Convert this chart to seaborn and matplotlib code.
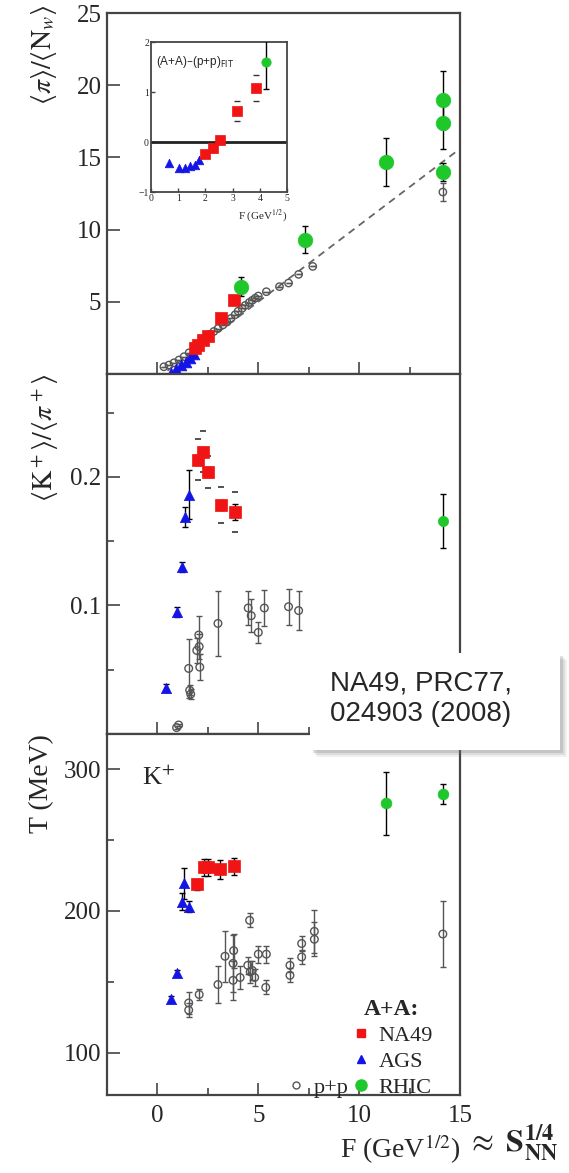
import matplotlib
matplotlib.use("Agg")
import matplotlib.pyplot as plt
import seaborn as sns
import numpy as np
from matplotlib.patches import Rectangle
from matplotlib.lines import Line2D

# ---------------- data ----------------
# top panel: <pi>/<Nw>
pi_na49_x = [1.85, 2.0, 2.25, 2.5, 3.15, 3.8]
pi_na49_y = [1.8, 2.0, 2.36, 2.64, 3.9, 5.14]
pi_ags_x = [0.65, 0.9, 1.15, 1.4, 1.6, 1.8]
pi_ags_y = [0.1, 0.35, 0.6, 0.85, 1.1, 1.4]
pi_rhic_x = [4.15, 7.3, 11.35, 14.15, 14.15, 14.15]
pi_rhic_y = [6.05, 9.3, 14.7, 19.0, 17.4, 14.0]
pi_rhic_err = [0.65, 0.95, 1.65, 2.0, 1.8, 0.6]
pi_pp_x = [0.32, 0.57, 0.82, 1.07, 1.32, 1.57, 2.6, 2.8, 3.0, 3.25, 3.45, 3.65, 3.85,
           4.0, 4.2, 4.35, 4.55, 4.7, 4.85, 5.0, 5.4, 6.05, 6.5, 7.0, 7.7, 14.15]
pi_pp_y = [0.5, 0.62, 0.78, 0.97, 1.2, 1.47, 2.75, 2.95, 3.15, 3.4, 3.6, 3.85, 4.1,
           4.35, 4.55, 4.75, 4.95, 5.1, 5.25, 5.4, 5.7, 6.05, 6.3, 6.9, 7.45, 12.6]
pi_pp_err = [0.0] * 25 + [0.6]
pp_fit_slope = 1.06
pp_fit_intercept = -0.3
pp_fit_range = [0.0, 15.0]

# inset: (A+A)-(p+p)FIT
ins_ags_x = [0.67, 1.04, 1.25, 1.43, 1.62, 1.78]
ins_ags_y = [-0.41, -0.51, -0.52, -0.48, -0.45, -0.35]
ins_na49_x = [1.99, 2.29, 2.54, 3.15, 3.86]
ins_na49_y = [-0.24, -0.12, 0.05, 0.62, 1.08]
ins_na49_sys = [0.06, 0.07, 0.08, 0.2, 0.26]
ins_rhic_x = [4.23]
ins_rhic_y = [1.61]
ins_rhic_err = [0.55]

# middle panel: <K+>/<pi+>
kp_na49_x = [2.0, 2.25, 2.5, 3.15, 3.85]
kp_na49_y = [0.2133, 0.2195, 0.204, 0.178, 0.1727]
kp_na49_err = [0.004, 0.004, 0.004, 0.004, 0.006]
kp_na49_sys = [0.016, 0.016, 0.0125, 0.014, 0.0155]
kp_ags_x = [0.43, 0.98, 1.2, 1.35, 1.55]
kp_ags_y = [0.036, 0.0948, 0.1297, 0.1687, 0.186]
kp_ags_err = [0.003, 0.004, 0.004, 0.008, 0.019]
kp_rhic_x = [14.15]
kp_rhic_y = [0.166]
kp_rhic_err = [0.021]
kp_pp_x = [0.95, 1.05, 1.55, 1.6, 1.65, 1.95, 2.05, 2.07, 2.1, 3.0, 4.5, 4.65, 5.0, 5.3, 6.5, 7.0]
kp_pp_y = [0.005, 0.007, 0.051, 0.034, 0.031, 0.065, 0.077, 0.068, 0.052, 0.086, 0.098,
           0.092, 0.079, 0.098, 0.099, 0.096]
kp_pp_err = [0.001, 0.001, 0.023, 0.004, 0.004, 0.01, 0.015, 0.01, 0.01, 0.025, 0.013,
             0.013, 0.008, 0.014, 0.014, 0.015]

# bottom panel: T (MeV)
t_na49_x = [1.95, 2.32, 2.52, 3.1, 3.82]
t_na49_y = [218.9, 231.0, 231.0, 229.3, 231.6]
t_na49_err = [4, 6, 6, 7, 6]
t_ags_x = [0.68, 0.98, 1.2, 1.32, 1.57]
t_ags_y = [138, 156, 206.4, 219.4, 203]
t_ags_err = [2, 2, 6, 11, 4]
t_rhic_x = [11.35, 14.15]
t_rhic_y = [276, 282.7]
t_rhic_err = [22, 7]
t_pp_x = [1.55, 1.55, 2.07, 3.0, 3.35, 3.75, 3.78, 3.75, 4.1, 4.48, 4.57, 4.6, 4.7, 4.82,
          5.0, 5.37, 5.4, 6.57, 6.57, 7.15, 7.15, 7.78, 7.78, 14.15]
t_pp_y = [135, 130, 141, 148, 168, 163, 172, 151, 153, 161.6, 193.4, 157, 158, 153,
          169.5, 146, 169.5, 161.6, 154.5, 177, 167.5, 185.6, 180, 183.7]
t_pp_err = [8, 5, 4, 13, 18, 20, 12, 14, 8, 6, 5, 8, 7, 6, 6, 5, 6, 5, 5, 5, 5, 15, 12, 23]

legend_labels = ["NA49", "AGS", "RHIC", "p+p"]

# ---------------- style ----------------
sns.set_theme(style="ticks")
plt.rcParams["font.family"] = ["Liberation Serif", "DejaVu Serif"]
plt.rcParams["mathtext.fontset"] = "stix"

RED = "#f01414"
BLUE = "#1414e6"
GREEN = "#1ec82a"
GRAY = "#555555"
SPINE = "#444444"

W, H = 569, 1173
fig = plt.figure(figsize=(W / 100, H / 100), dpi=100)


def fx(px):
    return px / W


def fy(py):
    return 1 - py / H


left, right = 107, 460
ax1 = fig.add_axes([fx(left), fy(374), fx(right - left), (374 - 13) / H])
ax2 = fig.add_axes([fx(left), fy(734), fx(right - left), (734 - 374) / H])
ax3 = fig.add_axes([fx(left), fy(1095), fx(right - left), (1095 - 734) / H])


def scat(ax, x, y, marker, color, s, open_=False, lw=0.5):
    sns.scatterplot(x=x, y=y, marker=marker, color=color, s=s, ax=ax,
                    edgecolor=color, linewidth=lw, zorder=4, legend=False)
    coll = ax.collections[-1]
    if open_:
        coll.set_facecolor("none")
        coll.set_edgecolor(GRAY)
        coll.set_linewidth(1.0)
    return coll


def ebar(ax, x, y, e, color="black", cap=2.5, lw=1.0):
    ax.errorbar(x, y, yerr=e, fmt="none", ecolor=color, elinewidth=lw,
                capsize=cap, capthick=lw, zorder=3)


def style_axis(ax):
    for sp in ax.spines.values():
        sp.set_color(SPINE)
        sp.set_linewidth(1.6)
    ax.set_xlim(-2.5, 15)
    ax.set_xticks([0, 5, 10, 15])
    ax.set_xticks([2.5, 7.5, 12.5], minor=True)
    ax.tick_params(which="major", direction="in", length=9, width=1.2, color=SPINE,
                   labelsize=18, pad=4)
    ax.tick_params(which="minor", direction="in", length=5, width=1.2, color=SPINE)
    ax.tick_params(axis="x", pad=7)
    ax.grid(False)


# ---- top panel ----
style_axis(ax1)
fitx = np.array(pp_fit_range)
sns.lineplot(x=fitx, y=pp_fit_slope * fitx + pp_fit_intercept, ax=ax1, color="#666666",
             linestyle=(0, (4, 3)), linewidth=1.3, zorder=2)
ebar(ax1, pi_pp_x, pi_pp_y, pi_pp_err, color=GRAY, lw=1.0)
scat(ax1, pi_pp_x, pi_pp_y, "o", GRAY, 28, open_=True)
scat(ax1, pi_ags_x, pi_ags_y, "^", BLUE, 60)
scat(ax1, pi_na49_x, pi_na49_y, "s", RED, 70)
ebar(ax1, pi_rhic_x, pi_rhic_y, pi_rhic_err)
scat(ax1, pi_rhic_x, pi_rhic_y, "o", GREEN, 110)
ax1.set_ylim(0, 25)
ax1.set_yticks([5, 10, 15, 20, 25])
ax1.set_xticklabels([])
ax1.set_ylabel(r"$\langle\pi\rangle/\langle \mathrm{N}_w\rangle$", fontsize=20, loc="top")
ax1.yaxis.set_label_coords(-0.135, 1.025)

# inset
axi = fig.add_axes([fx(151), fy(192), fx(287 - 151), (192 - 42) / H])
for sp in axi.spines.values():
    sp.set_color(SPINE)
    sp.set_linewidth(1.3)
axi.set_xlim(0, 5)
axi.set_ylim(-1, 2)
axi.set_xticks([0, 1, 2, 3, 4, 5])
axi.set_yticks([-1, 0, 1, 2])
axi.tick_params(direction="in", length=3, width=1, color=SPINE, labelsize=7, pad=1.5)
axi.grid(False)
axi.axhline(0, color="#222222", linewidth=2.0, zorder=2)
scat(axi, ins_ags_x, ins_ags_y, "^", BLUE, 38)
for s in (1, -1):
    axi.scatter(ins_na49_x, np.array(ins_na49_y) + s * np.array(ins_na49_sys), marker="_",
                color="#333333", s=20, linewidths=1.0, zorder=3)
scat(axi, ins_na49_x, ins_na49_y, "s", RED, 55)
ebar(axi, ins_rhic_x, ins_rhic_y, ins_rhic_err, cap=2)
scat(axi, ins_rhic_x, ins_rhic_y, "o", GREEN, 45)
axi.text(0.04, 0.87, r"(A+A)–(p+p)$_{\mathrm{FIT}}$", transform=axi.transAxes, fontsize=8.5,
         family=["Liberation Sans", "DejaVu Sans"], math_fontfamily="dejavusans",
         va="center", ha="left")
axi.set_xlabel(r"F (GeV$^{1/2}$)", fontsize=8, loc="right", labelpad=3)

# ---- middle panel ----
style_axis(ax2)
ebar(ax2, kp_pp_x, kp_pp_y, kp_pp_err, color=GRAY, lw=1.0)
scat(ax2, kp_pp_x, kp_pp_y, "o", GRAY, 30, open_=True)
ebar(ax2, kp_ags_x, kp_ags_y, kp_ags_err)
scat(ax2, kp_ags_x, kp_ags_y, "^", BLUE, 55)
for s in (1, -1):
    ax2.scatter(kp_na49_x, np.array(kp_na49_y) + s * np.array(kp_na49_sys), marker="_",
                color="#333333", s=22, linewidths=1.2, zorder=3)
ebar(ax2, kp_na49_x, kp_na49_y, kp_na49_err)
scat(ax2, kp_na49_x, kp_na49_y, "s", RED, 70)
ebar(ax2, kp_rhic_x, kp_rhic_y, kp_rhic_err)
scat(ax2, kp_rhic_x, kp_rhic_y, "o", GREEN, 55)
ax2.set_ylim(0, 0.28)
ax2.set_yticks([0.1, 0.2])
ax2.set_yticklabels(["0.1", "0.2"])
ax2.set_yticks([0.05, 0.15, 0.25], minor=True)
ax2.set_xticklabels([])
ax2.set_ylabel(r"$\langle \mathrm{K}^+\rangle/\langle\pi^+\rangle$", fontsize=20, loc="top")
ax2.yaxis.set_label_coords(-0.13, 1.0)

# ---- bottom panel ----
style_axis(ax3)
ebar(ax3, t_pp_x, t_pp_y, t_pp_err, color=GRAY, lw=1.0)
scat(ax3, t_pp_x, t_pp_y, "o", GRAY, 30, open_=True)
ebar(ax3, t_ags_x, t_ags_y, t_ags_err)
scat(ax3, t_ags_x, t_ags_y, "^", BLUE, 55)
ebar(ax3, t_na49_x, t_na49_y, t_na49_err)
scat(ax3, t_na49_x, t_na49_y, "s", RED, 70)
ebar(ax3, t_rhic_x, t_rhic_y, t_rhic_err)
scat(ax3, t_rhic_x, t_rhic_y, "o", GREEN, 60)
ax3.set_ylim(70, 325)
ax3.set_yticks([100, 200, 300])
ax3.set_yticks([150, 250], minor=True)
ax3.set_ylabel("T (MeV)", fontsize=20, loc="top")
ax3.yaxis.set_label_coords(-0.15, 1.0)
ax3.set_xlabel(r"F (GeV$^{1/2}$)", fontsize=20, loc="right", labelpad=4)
ax3.text(-0.75, 294, r"K$^{+}$", fontsize=19, va="center", ha="left")

h1 = [Line2D([], [], marker="s", color=RED, linestyle="none", markersize=6),
      Line2D([], [], marker="^", color=BLUE, linestyle="none", markersize=5.5),
      Line2D([], [], marker="o", color=GREEN, linestyle="none", markersize=8)]
leg1 = ax3.legend(handles=h1, labels=legend_labels[:3], title="A+A:", loc="lower right",
                  bbox_to_anchor=(0.93, -0.015), frameon=False, fontsize=16,
                  title_fontproperties={"weight": "bold", "size": 17},
                  handletextpad=0.3, labelspacing=0.25, handlelength=1.0,
                  borderpad=0.1, borderaxespad=0)
ax3.add_artist(leg1)
h2 = [Line2D([], [], marker="o", markerfacecolor="none", markeredgecolor=GRAY,
             linestyle="none", markersize=5)]
ax3.legend(handles=h2, labels=legend_labels[3:], loc="lower right",
           bbox_to_anchor=(0.69, -0.015), frameon=False, fontsize=16,
           handletextpad=0.3, handlelength=1.0, borderpad=0.1, borderaxespad=0)

fig.text(fx(467), fy(1143), r"$\approx\ \mathbf{S}_{\mathbf{NN}}^{\mathbf{1/4}}$",
         fontsize=23, ha="left", va="center")

# ---- citation box with soft shadow ----
bx0, by0, bx1, by1 = 310, 653, 560, 750
for i, a in enumerate([0.10, 0.15, 0.22]):
    off = 7 - 2 * i
    fig.add_artist(Rectangle((fx(bx0 + off), fy(by1 + off)), fx(bx1 - bx0), (by1 - by0) / H,
                             transform=fig.transFigure, facecolor="#707070", alpha=a,
                             edgecolor="none", zorder=8))
fig.add_artist(Rectangle((fx(bx0), fy(by1)), fx(bx1 - bx0), (by1 - by0) / H,
                         transform=fig.transFigure, facecolor="white", edgecolor="none",
                         zorder=9))
sans = ["Liberation Sans", "DejaVu Sans"]
fig.text(fx(330), fy(684), "NA49, PRC77,", fontsize=20, family=sans, ha="left", va="center",
         zorder=10)
fig.text(fx(330), fy(714), "024903 (2008)", fontsize=20, family=sans, ha="left", va="center",
         zorder=10)

fig.savefig("out.png", dpi=100)
